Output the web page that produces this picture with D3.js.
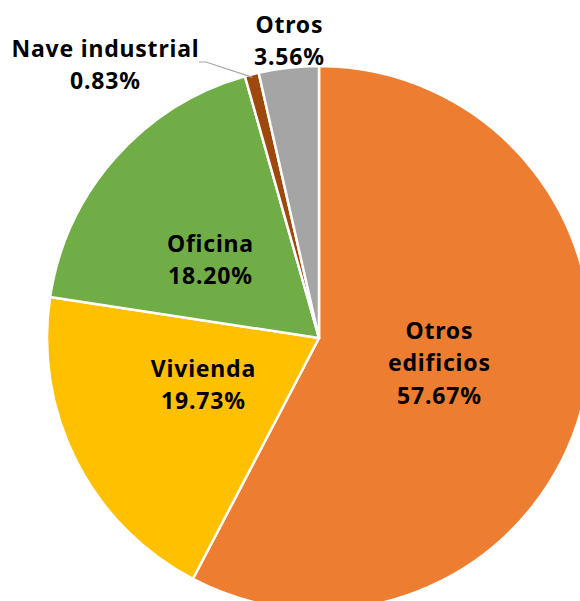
<!DOCTYPE html>
<html><head><meta charset="utf-8">
<script src="https://cdn.jsdelivr.net/npm/d3@7"></script>
<style>html,body{margin:0;padding:0;background:#fff;}svg{display:block;}</style>
</head><body>
<svg id="chart" width="580" height="601"></svg>
<script>
const categories = ["Otros edificios", "Vivienda", "Oficina", "Nave industrial", "Otros"];
const values = [57.67, 19.73, 18.20, 0.83, 3.56];
const colors = ["#ED7D31", "#FFC000", "#70AD47", "#9E480E", "#A5A5A5"];
const labelLines = [["Otros", "edificios", "57.67%"], ["Vivienda", "19.73%"], ["Oficina", "18.20%"], ["Nave industrial", "0.83%"], ["Otros", "3.56%"]];

const svg = d3.select("#chart");
const cx = 319, cy = 338, R = 272;
const pie = d3.pie().sort(null).value(d => d)(values);
const arc = d3.arc().innerRadius(0).outerRadius(R);
const g = svg.append("g").attr("transform", `translate(${cx},${cy})`);
g.selectAll("path").data(pie).join("path")
  .attr("d", arc).attr("fill", (d, i) => colors[i])
  .attr("stroke", "#fff").attr("stroke-width", 2.5).attr("stroke-linejoin", "round");

// label anchor (center x, first baseline y) relative to pie center
const labelPos = [[120, 1], [-116, 39], [-109, -86], [-214, -281], [-30, -305]];
const lineGap = 32.3;
const font = "'Century Gothic','URW Gothic','Noto Sans',sans-serif";
labelLines.forEach((lines, i) => {
  const [lx, ly] = labelPos[i];
  const t = g.append("text").attr("text-anchor", "middle")
    .attr("font-family", font).attr("font-weight", "bold").attr("font-size", 23)
    .attr("letter-spacing", 0.8).attr("fill", "#000");
  lines.forEach((s, k) => {
    t.append("tspan").attr("x", lx + 0.4).attr("y", ly + k * lineGap).text(s);
  });
});
// leader line for Nave industrial
const mid = pie[3];
const a = (mid.startAngle + mid.endAngle) / 2;
const ex = (R - 3) * Math.sin(a), ey = -(R - 3) * Math.cos(a);
g.append("polyline").attr("points", `${-120},${-276} ${-113},${-276} ${ex},${ey}`)
  .attr("fill", "none").attr("stroke", "#A6A6A6").attr("stroke-width", 1.2);
</script>
</body></html>
